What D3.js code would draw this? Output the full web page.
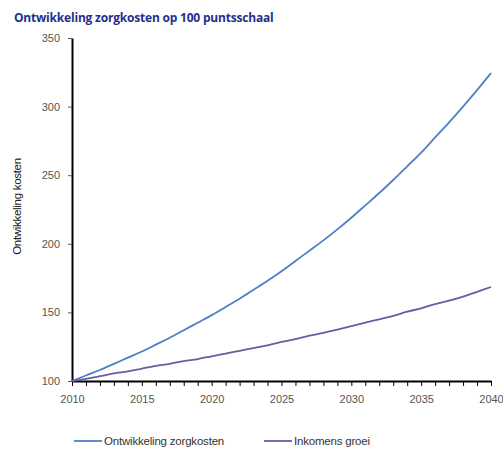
<!DOCTYPE html>
<html>
<head>
<meta charset="utf-8">
<script src="https://cdn.jsdelivr.net/npm/d3@7"></script>
<style>
  body { margin: 0; background: #fff; }
  svg { font-family: "Liberation Sans", Arial, sans-serif; }
</style>
</head>
<body>
<svg width="503" height="449"></svg>
<script>
var years = d3.range(2010, 2041)
var zorgkosten = [100, 104, 108, 112.5, 117, 121.5, 126.5, 131.5, 137, 142.5,
  148, 154, 160, 166.5, 173, 180, 187.5, 195, 202.5, 210.5,
  219, 228, 237, 246.5, 256.5, 266.5, 277.5, 288.5, 300, 312, 324.5]
var inkomens = [100, 101.5, 103.5, 105.5, 107, 109, 111, 112.5, 114.5, 116,
  118, 120, 122, 124, 126, 128.5, 130.5, 133, 135, 137.5,
  140, 142.5, 145, 147.5, 150.5, 153, 156, 158.5, 161.5, 165, 168.5]
var yTicks = [100, 150, 200, 250, 300, 350]
var xTicks = [2010, 2015, 2020, 2025, 2030, 2035, 2040]
var seriesNames = ["Ontwikkeling zorgkosten", "Inkomens groei"]
var colors = ["#4f7fc8", "#6b5ba3"]

var svg = d3.select('svg')
var margin = {left: 72, right: 12, top: 38, bottom: 68}
var width = 503, height = 449

var x = d3.scaleLinear()
  .domain([2010, 2040])
  .range([margin.left, width - margin.right])
var y = d3.scaleLinear()
  .domain([100, 350])
  .range([height - margin.bottom, margin.top])

// title
svg.append("text")
  .attr("x", 14).attr("y", 22)
  .attr("fill", "#24308a")
  .style("font", "bold 12px 'Open Sans', sans-serif")
  .style("letter-spacing", "-0.2px")
  .text("Ontwikkeling zorgkosten op 100 puntsschaal")

// y axis
var yAxis = svg.append("g")
  .attr("transform", `translate(${margin.left},0)`)
  .call(d3.axisLeft(y).tickValues(yTicks).tickSize(4).tickSizeOuter(0).tickPadding(8))
yAxis.select(".domain").attr("stroke", "#000").attr("stroke-width", 2)
yAxis.selectAll(".tick line").attr("stroke", "#555")
yAxis.selectAll(".tick text").attr("fill", "#555").style("font-size", "11px")

// x axis: minor ticks every year, labels every 5
var xAxis = svg.append("g")
  .attr("transform", `translate(0,${height - margin.bottom})`)
  .call(d3.axisBottom(x).tickValues(years).tickSize(5).tickSizeOuter(0)
    .tickFormat(d => xTicks.includes(d) ? d : ""))
xAxis.select(".domain").attr("stroke", "#000").attr("stroke-width", 2)
xAxis.selectAll(".tick line").attr("stroke", "#000")
xAxis.selectAll(".tick text").attr("fill", "#555").attr("dy", "1.3em").style("font-size", "11px")

// y label
svg.append("text")
  .attr("transform", `translate(21,${(y(100) + y(350)) / 2 - 3}) rotate(-90)`)
  .attr("text-anchor", "middle")
  .attr("fill", "#222")
  .style("font-size", "11.5px")
  .style("letter-spacing", "-0.3px")
  .text("Ontwikkeling kosten")

// lines
var line = d3.line()
  .x((d, i) => x(years[i]))
  .y(d => y(d))
  .curve(d3.curveMonotoneX)

svg.append("g")
  .attr("fill", "none")
  .attr("stroke-width", 1.8)
  .attr("stroke-linejoin", "round")
  .selectAll("path")
  .data([zorgkosten, inkomens])
  .enter()
  .append("path")
  .attr("stroke", (d, i) => colors[i])
  .attr("d", d => line(d))

// legend
var legendX = [74, 264]
var legend = svg.append("g")
  .selectAll("g")
  .data(seriesNames)
  .enter()
  .append("g")
  .attr("transform", (d, i) => `translate(${legendX[i]},441)`)
legend.append("line")
  .attr("x1", 0).attr("x2", 28)
  .attr("stroke", (d, i) => colors[i])
  .attr("stroke-width", 1.8)
legend.append("text")
  .attr("x", 30).attr("dy", "0.35em")
  .attr("fill", "#333")
  .style("font-size", "11.5px")
  .style("letter-spacing", "-0.2px")
  .text(d => d)
</script>
</body>
</html>
